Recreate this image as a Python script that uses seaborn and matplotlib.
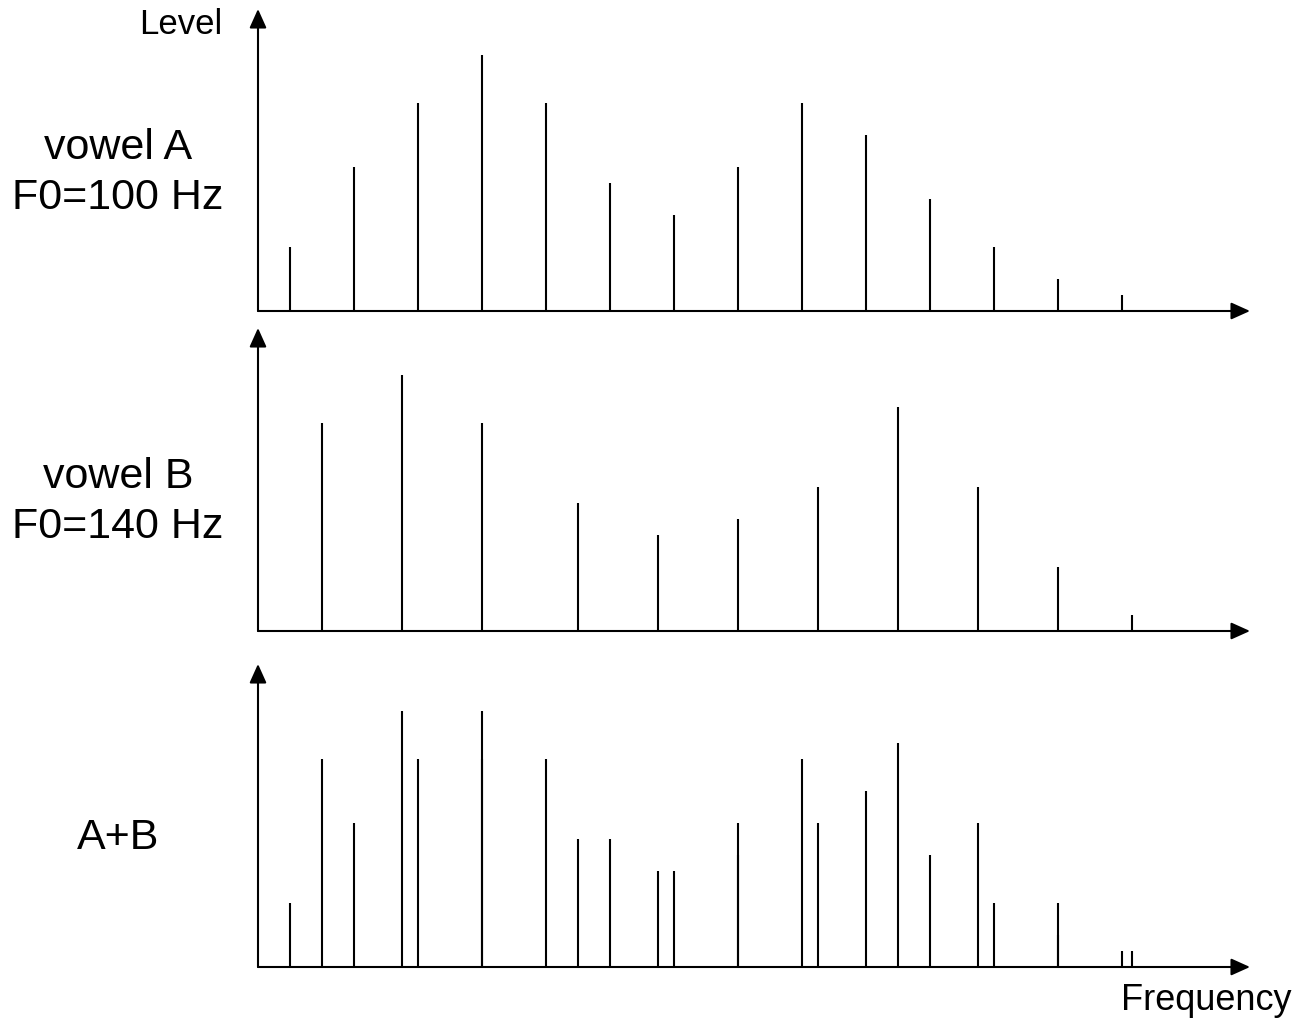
import pandas as pd
import numpy as np
import matplotlib
matplotlib.use("Agg")
import matplotlib.pyplot as plt
import seaborn as sns

sns.set_theme(style="white")
plt.rcParams["font.family"] = ["Liberation Sans", "DejaVu Sans"]
plt.rcParams["lines.solid_capstyle"] = "butt"
plt.rcParams["text.color"] = "black"

# harmonic positions (arbitrary frequency units) and levels
freq_a = [32, 96, 160, 224, 288, 352, 416, 480, 544, 608, 672, 736, 800, 864]
level_a = [64, 144, 208, 256, 208, 128, 96, 144, 208, 176, 112, 64, 32, 16]
freq_b = [64, 144, 224, 320, 400, 480, 560, 640, 720, 800, 874]
level_b = [208, 256, 208, 128, 96, 112, 144, 224, 144, 64, 16]

panel_labels = ["vowel A\nF0=100 Hz", "vowel B\nF0=140 Hz", "A+B"]


def stems(freqs, levels, tag):
    rows = []
    for i, (f, v) in enumerate(zip(freqs, levels)):
        rows.append({"freq": f, "level": 0, "stem": f"{tag}{i}"})
        rows.append({"freq": f, "level": v, "stem": f"{tag}{i}"})
    return pd.DataFrame(rows)


df_a = stems(freq_a, level_a, "a")
df_b = stems(freq_b, level_b, "b")
panels = [[df_a], [df_b], [df_a, df_b]]

W, H = 1298, 1022
fig = plt.figure(figsize=(W / 100, H / 100), dpi=100)

x0, x1 = 258, 1250
# (baseline y, arrow tip y) in pixels
rows_px = [(311, 9), (631, 328), (967, 664)]
label_y = [173, 502, 838]

for k, (base, top) in enumerate(rows_px):
    ax = fig.add_axes([x0 / W, 1 - base / H, (x1 - x0) / W, (base - top) / H])
    ax.set_xlim(0, x1 - x0)
    ax.set_ylim(0, base - top)
    ax.axis("off")
    for d in panels[k]:
        sns.lineplot(data=d, x="freq", y="level", units="stem", estimator=None,
                     sort=False, color="black", lw=1.5, ax=ax, legend=False)
    arrow = dict(arrowstyle="-|>,head_length=1.0,head_width=0.45", lw=1.5,
                 color="black", mutation_scale=11.5, shrinkA=0, shrinkB=0)
    ax.annotate("", xy=(x1 - x0, 0), xytext=(0, 0), arrowprops=arrow,
                annotation_clip=False)
    ax.annotate("", xy=(0, base - top), xytext=(0, 0), arrowprops=arrow,
                annotation_clip=False)
    fig.text(118 / W, 1 - label_y[k] / H, panel_labels[k], ha="center",
             va="center", fontsize=31, linespacing=1.32)

fig.text(222 / W, 1 - 25 / H, "Level", ha="right", va="center", fontsize=25)
fig.text(1206 / W, 1 - 1000 / H, "Frequency", ha="center", va="center",
         fontsize=26)

fig.savefig("out.png", dpi=100)
